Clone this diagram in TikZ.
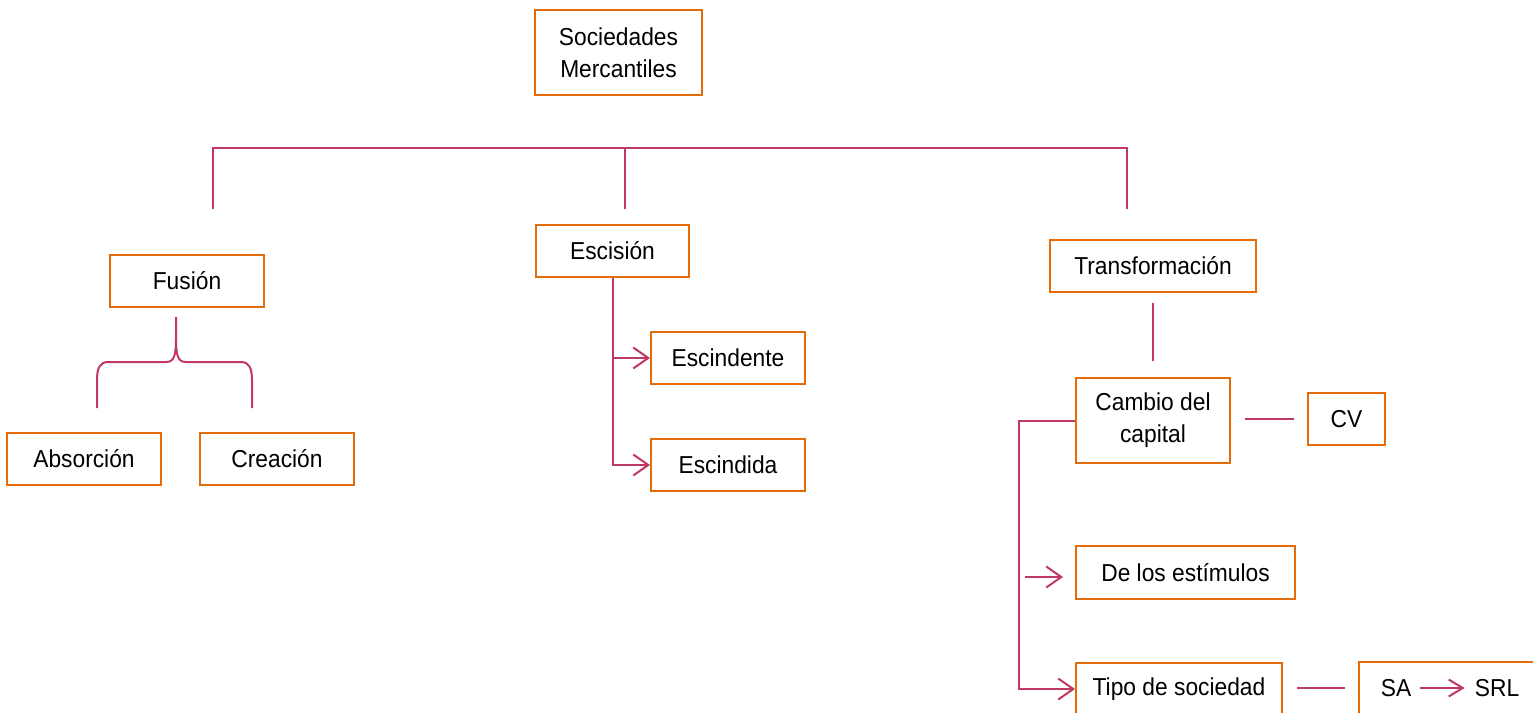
\documentclass[tikz,border=0pt]{standalone}
\usepackage{fontspec}
\setmainfont{Liberation Sans}[FakeStretch=0.93]
\usetikzlibrary{arrows.meta}
\definecolor{boxorange}{RGB}{228,108,10}
\definecolor{linered}{RGB}{192,57,96}
\begin{document}
\begin{tikzpicture}[x=1pt,y=-1pt,
  box/.style={draw=boxorange, line width=2pt, fill=white, inner sep=0pt, align=center,
    font=\fontsize{24.5}{32}\selectfont},
  lbl/.style={inner sep=0pt, font=\fontsize{24.5}{32}\selectfont},
  conn/.style={draw=linered, line width=2pt},
  arr/.style={conn, -{Straight Barb[length=15pt,width=21pt]}}]
\clip (0,0) rectangle (1533,712);
\fill[white] (0,0) rectangle (1533,712);
% boxes
\node[box, minimum width=167pt, minimum height=85pt] (soc) at (618.5,52.5) {Sociedades\\Mercantiles};
\node[box, minimum width=154pt, minimum height=52pt] (fusion) at (187,281) {Fusión};
\node[box, minimum width=153pt, minimum height=52pt] (escision) at (612.5,251) {Escisión};
\node[box, minimum width=206pt, minimum height=52pt] (transf) at (1153,266) {Transformación};
\node[box, minimum width=154pt, minimum height=52pt] (absor) at (84,459) {Absorción};
\node[box, minimum width=154pt, minimum height=52pt] (crea) at (277,459) {Creación};
\node[box, minimum width=154pt, minimum height=52pt] (escindente) at (728,358) {Escindente};
\node[box, minimum width=154pt, minimum height=52pt] (escindida) at (728,465) {Escindida};
\node[box, minimum width=154pt, minimum height=85pt] (cambio) at (1153,420.5) {Cambio del\\capital};
\node[box, minimum width=77pt, minimum height=52pt] (cv) at (1346.5,419) {CV};
\node[box, minimum width=219pt, minimum height=53pt] (estim) at (1185.5,572.5) {De los estímulos};
\node[box, minimum width=206pt, minimum height=52pt] (tipo) at (1179,689) {Tipo de sociedad};
\node[box, minimum width=182pt, minimum height=52pt] (sasrl) at (1450,688) {};
\node[lbl] (sa) at (1396,688) {SA};
\node[lbl] (srl) at (1497,688) {SRL};
% top tree
\coordinate (h1) at (213,148);
\coordinate (h2) at (625,148);
\coordinate (h3) at (1127,148);
\coordinate (b1) at (213,209);
\coordinate (b2) at (625,209);
\coordinate (b3) at (1127,209);
\draw[conn] (b1) -- (h1) -- (h3) -- (b3);
\draw[conn] (h2) -- (b2);
% Fusion brace
\coordinate (bt) at (176,317);
\coordinate (bl) at (97,408);
\coordinate (br) at (252,408);
\draw[conn] (bt) -- (176,338) .. controls (176,356) and (174,362) .. (166,362)
  -- (108,362) .. controls (100,362) and (97,368) .. (97,380) -- (bl);
\draw[conn] (176,338) .. controls (176,356) and (178,362) .. (186,362)
  -- (241,362) .. controls (249,362) and (252,368) .. (252,380) -- (br);
% Escision
\draw[arr] (escision.south) |- (escindida.west);
\draw[arr] (escision.south |- escindente.west) -- (escindente.west);
% Transformacion
\draw[conn, shorten <=10pt, shorten >=16pt] (transf) -- (cambio);
\draw[arr] (cambio.west) -- ++(-56,0) |- (tipo.west);
\coordinate (e1) at (1025,577);
\coordinate (e2) at (1063,577);
\draw[arr] (e1) -- (e2);
\draw[conn, shorten <=14pt, shorten >=13pt] (cambio.east |- cv.west) -- (cv.west);
\draw[conn, shorten <=14pt, shorten >=13pt] (tipo.east |- sasrl.west) -- (sasrl.west);
\draw[arr, -{Straight Barb[length=14pt,width=17pt]}, shorten <=9pt, shorten >=10pt] (sa.east) -- (srl.west);
\end{tikzpicture}
\end{document}
